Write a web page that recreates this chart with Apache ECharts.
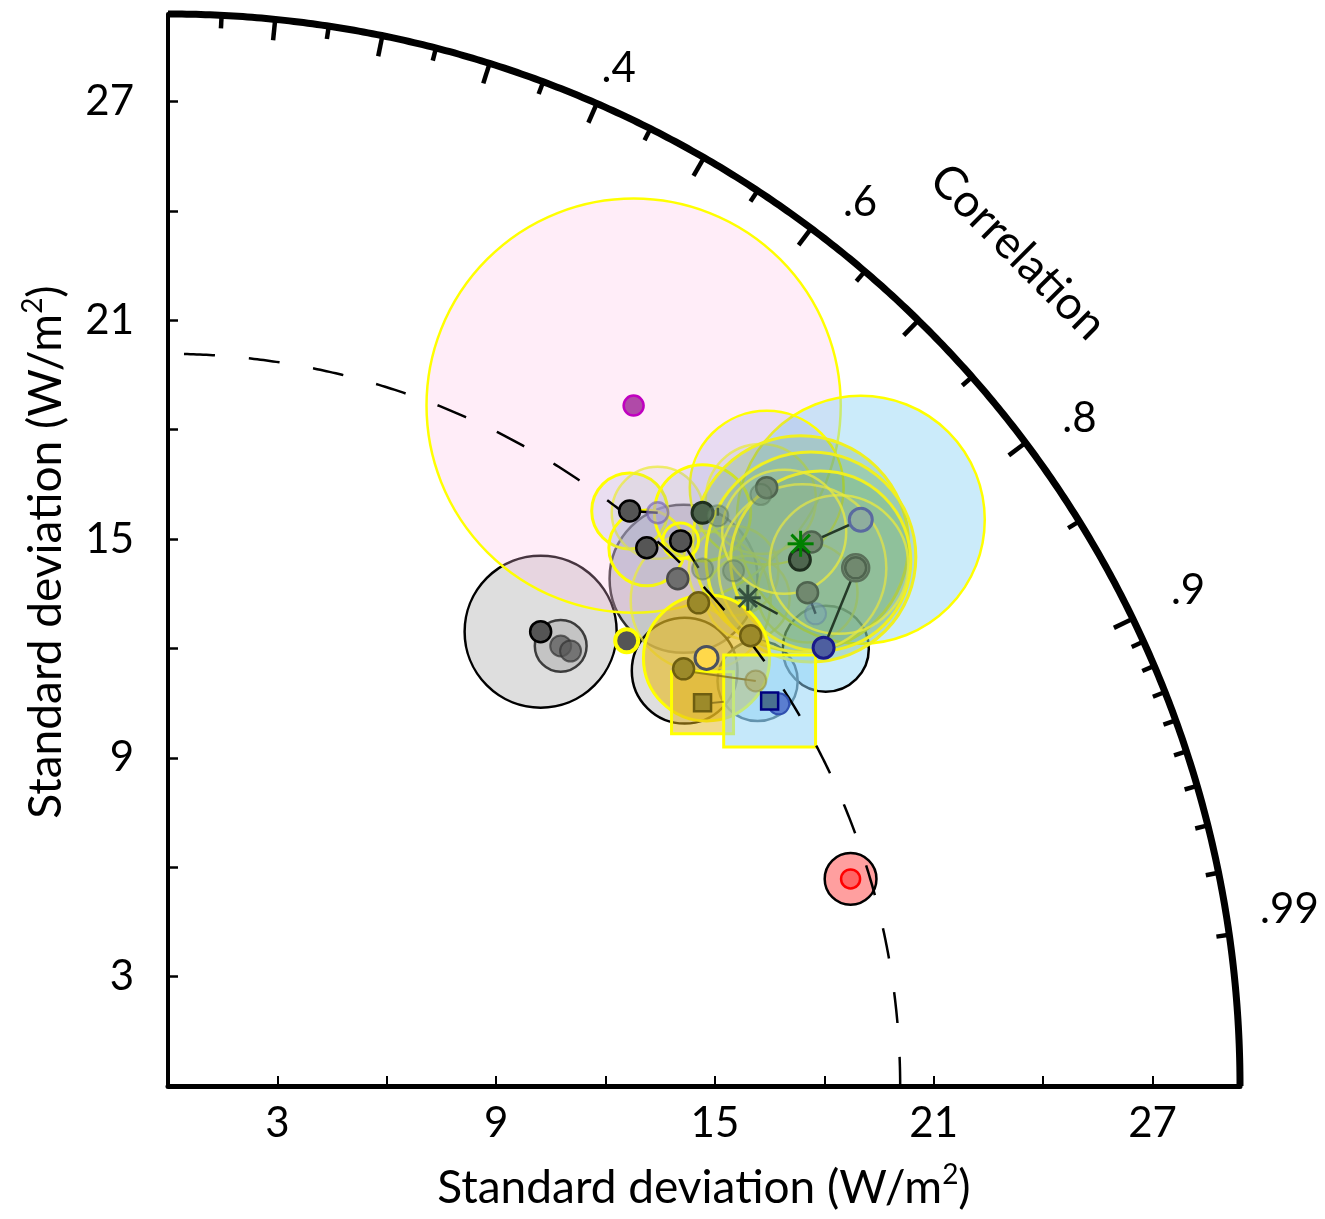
<!DOCTYPE html>
<html><head><meta charset="utf-8">
<script src="https://cdn.jsdelivr.net/npm/echarts@6.0.0/dist/echarts.min.js"></script>
<style>html,body{margin:0;padding:0;background:#fff}#c{width:1325px;height:1219px}</style>
</head><body><div id="c"></div>
<script>
// ---------------- data ----------------
const R_MAX = 29.4;          // outer standard-deviation radius (W/m2)
const REF_STD = 20.08;       // observed standard deviation (dashed arc)
const stdLabelValues = [3, 9, 15, 21, 27];
const corrMajor = [0.1, 0.2, 0.3, 0.4, 0.5, 0.6, 0.7, 0.8, 0.9];
const corrMinor = [0.05, 0.15, 0.25, 0.35, 0.45, 0.55, 0.65, 0.75, 0.85,
                   0.91, 0.92, 0.93, 0.94, 0.95, 0.96, 0.97, 0.98, 0.99];
const corrLabels = [0.4, 0.6, 0.8, 0.9, 0.99];

// spread bubbles: [x, y, radius, kind]   (all in W/m2)
const bubbles = [
  [10.22, 12.46, 2.085, 'kGray'],
  [10.77, 12.07, 0.71, 'kIn'],
  [14.14, 13.91, 2.03, 'kDark'],
  [14.17, 11.39, 1.45, 'kGray'],
  [18.04, 11.99, 1.18, 'kBlue'],
  [16.17, 11.11, 1.10, 'slate'],
  [18.72, 5.68, 0.71, 'kRed'],
  [12.77, 18.66, 5.68, 'pink'],
  [19.00, 15.53, 3.40, 'sky'],
  [16.42, 16.41, 2.11, 'lav'],
  [12.66, 15.77, 1.04, 'yBright'],
  [13.43, 15.72, 1.26, 'yFaint'],
  [13.13, 14.76, 1.04, 'yBright'],
  [14.66, 15.72, 1.32, 'yBright'],
  [14.61, 13.31, 1.92, 'yFaint'],
  [15.51, 14.13, 1.23, 'yFaint'],
  [16.26, 16.10, 1.51, 'yFaint'],
  [15.90, 13.39, 1.15, 'yFaint'],
  [17.54, 13.53, 1.37, 'yFaint'],
  [17.35, 14.87, 2.96, 'green'],
  [17.63, 14.51, 2.88, 'green'],
  [17.90, 14.40, 2.47, 'green'],
  [17.40, 14.20, 2.30, 'yFaint'],
  [18.40, 14.30, 1.90, 'yFaint'],
  [16.90, 15.20, 1.70, 'yFaint'],
  [14.06, 14.95, 0.49, 'yRing'],
  [14.77, 11.74, 1.73, 'gold'],
  [14.66, 10.51, 0.85, 'goldSq'],
  [16.50, 10.56, 1.26, 'skySq']
];

// connecting lines: [x1, y1, x2, y2, kind]
const links = [
  [12.66, 15.77, 13.43, 15.72, 'k'],
  [14.12, 14.90, 14.55, 14.21, 'k'],
  [15.08, 15.86, 15.08, 15.64, 'dg'],
  [16.42, 16.38, 16.26, 16.19, 'dg'],
  [17.65, 14.92, 19.00, 15.53, 'dg'],
  [18.86, 14.18, 17.98, 12.02, 'dg'],
  [17.54, 13.53, 17.76, 12.95, 'dg'],
  [15.90, 13.39, 16.72, 12.95, 'dg'],
  [14.14, 11.39, 16.12, 11.11, 'ol'],
  [14.66, 10.48, 15.24, 10.54, 'ol']
];

// model dots: [x, y, kind]
const dots = [
  [10.22, 12.46, 'dark'],
  [10.77, 12.07, 'grayT'],
  [11.04, 11.93, 'grayT'],
  [12.66, 15.77, 'dark'],
  [13.43, 15.72, 'purple'],
  [13.13, 14.76, 'dark'],
  [14.06, 14.95, 'dark'],
  [14.66, 15.72, 'darkG'],
  [15.08, 15.64, 'fadeG'],
  [13.98, 13.91, 'gray'],
  [14.66, 14.18, 'fadeG'],
  [15.51, 14.13, 'fadeG'],
  [16.42, 16.41, 'midG'],
  [16.26, 16.22, 'fadeG'],
  [17.65, 14.92, 'midG'],
  [17.33, 14.43, 'darkG'],
  [18.86, 14.21, 'midGBig'],
  [18.86, 14.21, 'midG'],
  [17.54, 13.53, 'midG'],
  [17.76, 12.95, 'fadeB'],
  [19.00, 15.53, 'blueG'],
  [17.98, 12.02, 'navy'],
  [14.55, 13.25, 'olive'],
  [15.98, 12.35, 'olive'],
  [14.14, 11.44, 'olive'],
  [16.12, 11.11, 'oliveFaint'],
  [16.75, 10.48, 'blue'],
  [12.58, 12.21, 'darkY'],
  [12.77, 18.66, 'magenta'],
  [14.77, 11.74, 'yellow'],
  [18.72, 5.68, 'red']
];

// square markers: [x, y, kind]
const squares = [
  [14.66, 10.51, 'oliveSq'],
  [16.50, 10.56, 'navySq']
];

// asterisk markers: [x, y, kind]
const stars = [
  [17.35, 14.87, 'green'],
  [15.90, 13.39, 'slate']
];

// ---------------- layout / styles ----------------
const FONT = 'Lato, "Open Sans", sans-serif';
const CORR_LABEL_RADIUS = 30.9;
const corrLabelNudgePx = [[0, 15], [16, 18], [10, 8], [6, -4], [6, -18]];
const bubbleStyle = {
  kGray:  {fill: 'rgba(195,195,195,0.55)', stroke: '#000', lw: 2.5},
  kIn:    {fill: 'rgba(150,150,150,0.35)', stroke: '#3c3c3c', lw: 2.5},
  kDark:  {fill: 'rgba(110,110,125,0.36)', stroke: 'rgba(0,0,0,0.8)', lw: 2.5},
  kBlue:  {fill: 'rgba(150,215,245,0.5)', stroke: '#000', lw: 2.5},
  slate:  {fill: 'rgba(140,205,240,0.45)', stroke: '#3b5566', lw: 2.5},
  kRed:   {fill: 'rgba(255,80,80,0.55)', stroke: '#000', lw: 2.5},
  pink:   {fill: 'rgba(255,190,230,0.28)', stroke: '#ffff00', lw: 2.5},
  sky:    {fill: 'rgba(140,210,245,0.45)', stroke: '#ffff00', lw: 2.5},
  lav:    {fill: 'rgba(140,150,220,0.2)', stroke: '#ffff00', lw: 2.5},
  yBright:{fill: 'rgba(150,165,215,0.2)', stroke: '#ffff00', lw: 3},
  yFaint: {fill: 'rgba(165,185,150,0.12)', stroke: 'rgba(235,235,60,0.75)', lw: 2.5},
  green:  {fill: 'rgba(105,170,100,0.27)', stroke: '#f0f020', lw: 3},
  yRing:  {fill: 'rgba(160,160,160,0.15)', stroke: '#ffff00', lw: 3},
  gold:   {fill: 'rgba(230,185,30,0.62)', stroke: '#ffff00', lw: 3},
  goldSq: {fill: 'rgba(225,180,30,0.5)', stroke: '#ffff00', lw: 3, square: true},
  skySq:  {fill: 'rgba(140,210,245,0.5)', stroke: '#ffff00', lw: 3, square: true}
};
const dotStyle = {
  dark:    {fill: '#555555', stroke: '#000', lw: 2.5, size: 21},
  grayT:   {fill: 'rgba(90,90,90,0.75)', stroke: 'rgba(50,50,50,0.7)', lw: 2, size: 21},
  gray:    {fill: '#6e6e6e', stroke: '#4a4a4a', lw: 2.5, size: 21},
  purple:  {fill: 'rgba(170,160,210,0.6)', stroke: 'rgba(110,90,170,0.6)', lw: 2.5, size: 21},
  darkG:   {fill: '#4f664f', stroke: '#1f2f1f', lw: 3, size: 21},
  midG:    {fill: '#71896f', stroke: '#4f644f', lw: 2.5, size: 21},
  midGBig: {fill: '#7d967b', stroke: '#5a705a', lw: 2.5, size: 27},
  fadeG:   {fill: 'rgba(110,140,110,0.45)', stroke: 'rgba(80,110,80,0.4)', lw: 2, size: 21},
  fadeB:   {fill: 'rgba(120,160,190,0.4)', stroke: 'rgba(90,120,160,0.4)', lw: 2, size: 21},
  blueG:   {fill: '#8fae9e', stroke: '#5a6aa0', lw: 3, size: 23},
  navy:    {fill: '#4e5fa0', stroke: '#1a1a8a', lw: 3, size: 21},
  olive:   {fill: '#9c8a2a', stroke: '#6e5e10', lw: 2.5, size: 21},
  oliveFaint: {fill: 'rgba(170,160,80,0.5)', stroke: 'rgba(140,130,60,0.5)', lw: 2, size: 21},
  blue:    {fill: '#5a7ed0', stroke: '#3050b0', lw: 2, size: 21},
  darkY:   {fill: '#555555', stroke: '#ffff00', lw: 4, size: 23},
  magenta: {fill: '#b04aa8', stroke: '#c000c0', lw: 2.5, size: 20},
  yellow:  {fill: '#ffd84a', stroke: '#4a5060', lw: 3, size: 23},
  red:     {fill: '#ff6464', stroke: '#ff0000', lw: 2.5, size: 19},
  oliveSq: {fill: '#9c8a2a', stroke: '#6e5e10', lw: 2.5, size: 17},
  navySq:  {fill: '#4a7090', stroke: '#000080', lw: 2.5, size: 17}
};
const linkStyle = {
  k:  {stroke: '#000', lw: 2.5},
  dg: {stroke: '#253a28', lw: 2.5},
  ol: {stroke: 'rgba(120,100,20,0.7)', lw: 2}
};
const starStyle = {
  green: {stroke: '#008000', lw: 3, size: 13},
  slate: {stroke: '#34513f', lw: 3, size: 13}
};

// ---------------- chart ----------------
const chart = echarts.init(document.getElementById('c'), null, {renderer: 'canvas'});

function pxPerUnit(api) { return api.size([1, 0])[0]; }

const titleRich = {
  a: {fontSize: 46, fontFamily: FONT, fill: '#000', lineHeight: 54, verticalAlign: 'middle'},
  s: {fontSize: 28, fontFamily: FONT, fill: '#000', lineHeight: 30, verticalAlign: 'top'}
};

const option = {
  animation: false,
  backgroundColor: '#fff',
  grid: {left: 168, top: 14, width: 1072, height: 1072, containLabel: false},
  xAxis: {
    type: 'value', min: 0, max: R_MAX, interval: 3,
    axisLine: {show: true, onZero: false, lineStyle: {color: '#000', width: 5}},
    axisTick: {show: true, inside: true, length: 10, lineStyle: {color: '#000', width: 2}},
    axisLabel: {
      margin: 16, fontSize: 42, fontFamily: FONT, color: '#000', showMaxLabel: false,
      formatter: v => stdLabelValues.indexOf(v) >= 0 ? String(v) : ''
    },
    splitLine: {show: false}
  },
  yAxis: {
    type: 'value', min: 0, max: R_MAX, interval: 3,
    axisLine: {show: true, onZero: false, lineStyle: {color: '#000', width: 4}},
    axisTick: {show: true, inside: true, length: 10, lineStyle: {color: '#000', width: 2.5}},
    axisLabel: {
      margin: 34, fontSize: 42, fontFamily: FONT, color: '#000', showMaxLabel: false,
      formatter: v => stdLabelValues.indexOf(v) >= 0 ? String(v) : ''
    },
    splitLine: {show: false}
  },
  graphic: [
    {
      type: 'text', x: 704, y: 1188, z: 100,
      style: {text: '{a|Standard deviation (W/m}{s|2}{a|)}', align: 'center', verticalAlign: 'middle', rich: titleRich}
    },
    {
      type: 'text', x: 46, y: 552, rotation: Math.PI / 2, z: 100,
      style: {text: '{a|Standard deviation (W/m}{s|2}{a|)}', align: 'center', verticalAlign: 'middle', rich: titleRich}
    },
    {
      type: 'text', x: 1018, y: 252, rotation: -Math.PI / 4, z: 100,
      style: {text: 'Correlation', align: 'center', verticalAlign: 'middle',
              fontSize: 46, fontFamily: FONT, fill: '#000'}
    }
  ],
  series: [
    // spread bubbles
    {
      type: 'custom', clip: false, z: 2,
      data: bubbles.map(b => [b[0], b[1], b[2]]),
      renderItem: (p, api) => {
        const b = bubbles[p.dataIndex];
        const c = api.coord([b[0], b[1]]);
        const rp = api.size([b[2], 0])[0];
        const st = bubbleStyle[b[3]];
        const style = {fill: st.fill, stroke: st.stroke, lineWidth: st.lw};
        if (st.square) {
          return {type: 'rect', shape: {x: c[0] - rp, y: c[1] - rp, width: 2 * rp, height: 2 * rp}, style};
        }
        return {type: 'circle', shape: {cx: c[0], cy: c[1], r: rp}, style};
      }
    },
    // dashed reference arc
    {
      type: 'custom', clip: false, z: 3,
      data: [[0, REF_STD]],
      renderItem: (p, api) => {
        const pts = [];
        for (let i = 0; i <= 360; i++) {
          const a = Math.PI / 2 - i * Math.PI / 720;
          pts.push(api.coord([REF_STD * Math.cos(a), REF_STD * Math.sin(a)]));
        }
        return {type: 'polyline', shape: {points: pts},
                style: {fill: null, stroke: '#000', lineWidth: 2.5, lineDash: [31, 34], lineDashOffset: 49}};
      }
    },
    // connecting lines
    {
      type: 'custom', clip: false, z: 4,
      data: links.map(l => [l[0], l[1], l[2], l[3]]),
      renderItem: (p, api) => {
        const l = links[p.dataIndex];
        const a = api.coord([l[0], l[1]]), b = api.coord([l[2], l[3]]);
        const st = linkStyle[l[4]];
        return {type: 'line', shape: {x1: a[0], y1: a[1], x2: b[0], y2: b[1]},
                style: {stroke: st.stroke, lineWidth: st.lw}};
      }
    },
    // dots
    {
      type: 'custom', clip: false, z: 5,
      data: dots.map(d => [d[0], d[1]]),
      renderItem: (p, api) => {
        const d = dots[p.dataIndex];
        const c = api.coord([d[0], d[1]]);
        const st = dotStyle[d[2]];
        return {type: 'circle', shape: {cx: c[0], cy: c[1], r: st.size / 2},
                style: {fill: st.fill, stroke: st.stroke, lineWidth: st.lw}};
      }
    },
    // square markers
    {
      type: 'custom', clip: false, z: 5,
      data: squares.map(d => [d[0], d[1]]),
      renderItem: (p, api) => {
        const d = squares[p.dataIndex];
        const c = api.coord([d[0], d[1]]);
        const st = dotStyle[d[2]];
        const h = st.size / 2;
        return {type: 'rect', shape: {x: c[0] - h, y: c[1] - h, width: 2 * h, height: 2 * h},
                style: {fill: st.fill, stroke: st.stroke, lineWidth: st.lw}};
      }
    },
    // asterisks
    {
      type: 'custom', clip: false, z: 6,
      data: stars.map(d => [d[0], d[1]]),
      renderItem: (p, api) => {
        const d = stars[p.dataIndex];
        const c = api.coord([d[0], d[1]]);
        const st = starStyle[d[2]];
        const ch = [];
        for (let k = 0; k < 4; k++) {
          const a = k * Math.PI / 4;
          const dx = Math.cos(a) * st.size, dy = Math.sin(a) * st.size;
          ch.push({type: 'line', shape: {x1: c[0] - dx, y1: c[1] - dy, x2: c[0] + dx, y2: c[1] + dy},
                   style: {stroke: st.stroke, lineWidth: st.lw}});
        }
        return {type: 'group', children: ch};
      }
    },
    // outer correlation arc
    {
      type: 'custom', clip: false, z: 10,
      data: [[0, R_MAX]],
      renderItem: (p, api) => {
        const pts = [];
        for (let i = 0; i <= 360; i++) {
          const a = i * Math.PI / 720;
          pts.push(api.coord([R_MAX * Math.cos(a), R_MAX * Math.sin(a)]));
        }
        return {type: 'polyline', shape: {points: pts}, style: {fill: null, stroke: '#000', lineWidth: 7}};
      }
    },
    // correlation ticks
    {
      type: 'custom', clip: false, z: 10,
      data: corrMajor.concat(corrMinor).map(c => [R_MAX * c, R_MAX * Math.sqrt(1 - c * c)]),
      renderItem: (p, api) => {
        const all = corrMajor.concat(corrMinor);
        const c = all[p.dataIndex];
        const major = p.dataIndex < corrMajor.length;
        const len = (major ? 21 : 13) / pxPerUnit(api);
        const s = Math.sqrt(1 - c * c);
        const a = api.coord([R_MAX * c, R_MAX * s]);
        const b = api.coord([(R_MAX - len) * c, (R_MAX - len) * s]);
        return {type: 'line', shape: {x1: a[0], y1: a[1], x2: b[0], y2: b[1]},
                style: {stroke: '#000', lineWidth: 4.5}};
      }
    },
    // correlation labels
    {
      type: 'custom', clip: false, z: 10,
      data: corrLabels.map(c => [CORR_LABEL_RADIUS * c, CORR_LABEL_RADIUS * Math.sqrt(1 - c * c)]),
      renderItem: (p, api) => {
        const c = corrLabels[p.dataIndex];
        const s = Math.sqrt(1 - c * c);
        const pos = api.coord([CORR_LABEL_RADIUS * c, CORR_LABEL_RADIUS * s]);
        const n = corrLabelNudgePx[p.dataIndex];
        return {type: 'text', x: pos[0] + n[0], y: pos[1] + n[1],
                style: {text: String(c).replace(/^0/, ''), align: 'center', verticalAlign: 'middle',
                        fontSize: 42, fontFamily: FONT, fill: '#000'}};
      }
    }
  ]
};
chart.setOption(option);
</script>
</body></html>
